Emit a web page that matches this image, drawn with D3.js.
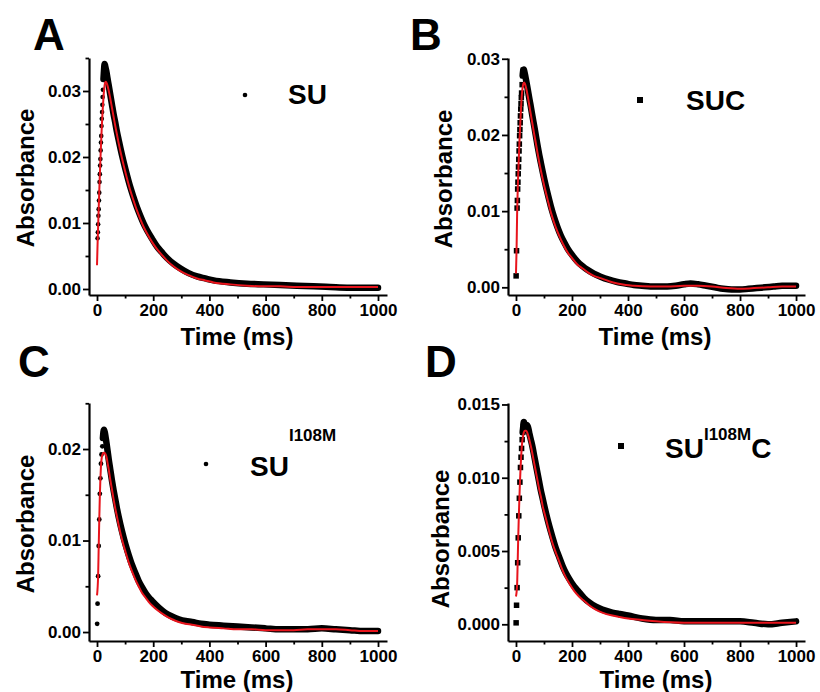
<!DOCTYPE html>
<html><head><meta charset="utf-8">
<script src="https://cdn.jsdelivr.net/npm/d3@7"></script>
<style>
body{margin:0;background:#fff}
svg{display:block}
text{font-family:"Liberation Sans",Arial,sans-serif;font-weight:bold;fill:#000}
</style></head>
<body><svg id="c" width="820" height="692"></svg>
<script>
// ---------------- DATA ----------------
const xTicks = [0, 200, 400, 600, 800, 1000];
const xMinor = [100, 300, 500, 700, 900];
const xTitle = "Time (ms)";
const yTitle = "Absorbance";

const yTicksA = [0, 0.01, 0.02, 0.03];      const yMinorA = [0.005, 0.015, 0.025, 0.035];
const yTicksB = [0, 0.01, 0.02, 0.03];      const yMinorB = [0.005, 0.015, 0.025];
const yTicksC = [0, 0.01, 0.02];            const yMinorC = [0.005, 0.015, 0.025];
const yTicksD = [0, 0.005, 0.010, 0.015];   const yMinorD = [0.0025, 0.0075, 0.0125];

const panelLetters = ["A", "B", "C", "D"];
const labelA = [["SU", false]];
const labelB = [["SUC", false]];
const labelC = [["SU", false], ["I108M", true]];
const labelD = [["SU", false], ["I108M", true], ["C", false]];

// Panel A – SU (observed, time ms / absorbance)
const dataTA = [2,3,4,5,6,7,8,9,10,11,12,13,14,15,16,17,18,19,20,21,23,25,27,29,31,34,37,41,47,53,59,65,71,77,83,95,107,118,130,142,154,166,178,196,214,232,249,273,297,326,356,385,415,475,534,593,652,711,770,830,890,950,1000];
const dataVA = [.0077,.0086,.0098,.0111,.0121,.0134,.0146,.0162,.0174,.0187,.0197,.0210,.0222,.0232,.0247,.0258,.0268,.0279,.0291,.0302,.0318,.0332,.0341,.0338,.0334,.0328,.0320,.0310,.0295,.0280,.0265,.0252,.0238,.0226,.0214,.0192,.0172,.0155,.0139,.0124,.0111,.0099,.0089,.0076,.0064,.0055,.0047,.0038,.0031,.0024,.0019,.0016,.0013,.0010,.0008,.0007,.0006,.0005,.0004,.0003,.0002,.0002,.0002];
const fitTA = [0,2,4,6,8,10,12,14,16,18,20,23,26,29,32,36,41,47,53,59,65,71,77,83,95,107,118,130,142,154,166,178,196,214,232,249,273,297,326,356,385,415,475,534,593,652,711,770,830,890,950,1000];
const fitVA = [.0036,.0068,.0095,.0122,.0148,.0172,.0195,.0216,.0236,.0254,.0270,.0290,.0305,.0313,.0314,.0310,.0302,.0289,.0275,.0261,.0247,.0234,.0221,.0209,.0187,.0167,.0150,.0134,.0119,.0106,.0094,.0084,.0071,.0060,.0051,.0043,.0034,.0027,.0021,.0016,.0013,.0010,.0007,.0005,.0004,.0004,.0003,.0003,.0003,.0003,.0003,.0003];

// Panel B – SUC
const dataTB = [0.5,2,4,5,6,7,8,9,10,11,12,13,14,15,16,17,18,19,20,22,24,26,28,30,33,37,42,47,53,59,65,71,77,83,89,101,113,124,136,148,160,172,184,201,219,237,255,278,302,332,362,392,421,450,480,510,540,570,600,623,650,680,710,740,770,800,830,860,890,920,950,975,1000];
const dataVB = [.0015,.0048,.0104,.0114,.0129,.0138,.0149,.0158,.0168,.0179,.0188,.0199,.0207,.0216,.0225,.0234,.0241,.0249,.0255,.0266,.0278,.0285,.0286,.0283,.0278,.0270,.0260,.0249,.0237,.0224,.0212,.0199,.0186,.0174,.0163,.0142,.0123,.0107,.0092,.0079,.0068,.0059,.0051,.0042,.0034,.0028,.0023,.0018,.0014,.0010,.0007,.0005,.0003,.0002,.0001,.0001,.0001,.0002,.0004,.0005,.0004,.0002,.0000,-.0002,-.0003,-.0003,-.0002,-.0001,.0000,.0001,.0002,.0002,.0002];
const fitTB = [0,2,4,6,8,10,12,14,16,18,20,23,26,29,32,36,42,47,53,59,65,71,77,83,89,101,113,124,136,148,160,172,184,201,219,237,255,278,302,332,362,392,421,480,540,600,650,700,750,800,850,900,950,1000];
const fitVB = [.0018,.0048,.0095,.0125,.0149,.0168,.0188,.0204,.0220,.0235,.0248,.0260,.0267,.0269,.0267,.0262,.0251,.0240,.0227,.0214,.0201,.0189,.0176,.0164,.0153,.0133,.0115,.0099,.0085,.0073,.0063,.0054,.0046,.0038,.0030,.0025,.0020,.0015,.0012,.0008,.0005,.0003,.0002,.0001,.0001,.0002,.0002,.0001,-.0001,-.0002,-.0001,.0000,.0001,.0001];

// Panel C – SU I108M
const dataTC = [0.5,2,4,6,8,10,12,14,16,19,21,23,25,27,29,31,34,38,42,47,53,59,65,71,77,89,101,113,125,137,148,160,172,184,196,219,243,267,291,315,338,370,400,450,500,550,600,650,700,750,800,850,900,950,1000];
const dataVC = [.0009,.0031,.0061,.0094,.0123,.0151,.0168,.0184,.0194,.0203,.0212,.0219,.0221,.0219,.0216,.0212,.0206,.0197,.0188,.0178,.0166,.0155,.0145,.0135,.0126,.0110,.0096,.0084,.0073,.0064,.0056,.0049,.0043,.0038,.0034,.0027,.0021,.0017,.0014,.0012,.0011,.0009,.0008,.0007,.0006,.0005,.0004,.0003,.0003,.0003,.0004,.0003,.0002,.0001,.0001];
const fitTC = [0,4,6,8,10,12,14,17,21,25,29,34,38,42,47,53,59,65,71,77,89,101,113,125,137,148,160,172,184,196,219,243,267,291,315,338,370,400,450,500,550,600,650,700,750,800,850,900,950,1000];
const fitVC = [.0040,.0062,.0093,.0122,.0148,.0167,.0181,.0191,.0195,.0196,.0195,.0191,.0184,.0177,.0167,.0156,.0145,.0135,.0126,.0117,.0101,.0088,.0076,.0066,.0057,.0050,.0043,.0038,.0033,.0029,.0023,.0018,.0014,.0011,.0009,.0008,.0006,.0005,.0004,.0003,.0003,.0002,.0002,.0002,.0003,.0003,.0003,.0002,.0001,.0001];

// Panel D – SU I108M C
const dataTD = [0.5,2,4,6,8,10,12,14,16,18,20,22,24,26,28,30,33,36,39,42,45,48,53,59,65,71,77,83,89,95,107,119,131,142,154,166,178,190,207,225,243,261,285,308,344,370,400,450,500,550,600,650,700,750,800,850,900,950,1000];
const dataVD = [.0001,.0013,.0025,.0042,.0059,.0074,.0086,.0097,.0107,.0114,.0120,.0126,.0131,.0135,.0138,.0137,.0135,.0134,.0136,.0135,.0133,.0130,.0126,.0121,.0115,.0109,.0103,.0097,.0091,.0086,.0076,.0067,.0059,.0052,.0046,.0040,.0035,.0031,.0026,.0022,.0018,.0015,.0012,.0010,.0008,.0007,.0006,.0004,.0003,.0003,.0002,.0002,.0002,.0002,.0002,.0001,.0000,.0001,.0002];
const fitTD = [0,4,6,8,10,12,14,16,18,20,22,25,28,32,36,40,45,50,55,60,65,71,77,83,89,95,107,119,131,142,154,166,178,190,207,225,243,261,285,308,344,370,400,450,500,600,700,800,900,1000];
const fitVD = [.0019,.0027,.0042,.0059,.0073,.0085,.0096,.0105,.0113,.0119,.0124,.0128,.0131,.0132,.0132,.0131,.0128,.0124,.0120,.0115,.0110,.0104,.0098,.0092,.0087,.0081,.0072,.0063,.0055,.0049,.0043,.0037,.0032,.0028,.0023,.0019,.0016,.0013,.0010,.0008,.0006,.0005,.0004,.0003,.0002,.0001,.0001,.0001,.0001,.0001];

// ---------------- LAYOUT ----------------
const panels = [
  {letter: panelLetters[0], T: dataTA, V: dataVA, FT: fitTA, FV: fitVA, yTicks: yTicksA, yMinor: yMinorA,
   yDom: [-0.00091, 0.035], fmt: ".2f", x0: 89, x1: 387, yTop: 58, yBot: 295, marker: "circle", mSize: 2.3,
   letterPos: [33, 50], absPos: [25, 178], timePos: [237, 345],
   legend: {dot: [245, 95], text: [288, 104], parts: labelA, supDy: 0}},
  {letter: panelLetters[1], T: dataTB, V: dataVB, FT: fitTB, FV: fitVB, yTicks: yTicksB, yMinor: yMinorB,
   yDom: [-0.00101, 0.0301], fmt: ".2f", x0: 508, x1: 805, yTop: 58, yBot: 295, marker: "square", mSize: 5.5,
   letterPos: [410, 50], absPos: [443, 179], timePos: [655, 345],
   legend: {dot: [640, 100], text: [686, 110], parts: labelB, supDy: 0}},
  {letter: panelLetters[2], T: dataTC, V: dataVC, FT: fitTC, FV: fitVC, yTicks: yTicksC, yMinor: yMinorC,
   yDom: [-0.00098, 0.02503], fmt: ".2f", x0: 89, x1: 387, yTop: 403, yBot: 641, marker: "circle", mSize: 2.4,
   letterPos: [18, 377], absPos: [25, 524], timePos: [237, 688],
   legend: {dot: [206, 464], text: [250, 476], parts: labelC, supDy: -35}},
  {letter: panelLetters[3], T: dataTD, V: dataVD, FT: fitTD, FV: fitVD, yTicks: yTicksD, yMinor: yMinorD,
   yDom: [-0.00114, 0.0151], fmt: ".3f", x0: 508, x1: 805, yTop: 403, yBot: 641, marker: "square", mSize: 5.5,
   letterPos: [425, 377], absPos: [440, 539], timePos: [656, 688],
   legend: {dot: [621, 446], text: [665, 458], parts: labelD, supDy: -18}}
];

const svg = d3.select("#c");
const RED = "#e8141c";

function drawMarker(sel, kind, s) {
  if (kind === "circle") {
    sel.append("circle").attr("r", s).attr("fill", "#000");
  } else {
    sel.append("rect").attr("x", -s / 2).attr("y", -s / 2).attr("width", s).attr("height", s).attr("fill", "#000");
  }
}

panels.forEach(p => {
  const x = d3.scaleLinear().domain([-28.5, 1032]).range([p.x0, p.x1]);
  const y = d3.scaleLinear().domain(p.yDom).range([p.yBot, p.yTop]);
  const g = svg.append("g");

  // minor ticks
  g.append("g").attr("transform", `translate(0,${p.yBot})`)
    .call(d3.axisBottom(x).tickValues(xMinor).tickSize(3.5).tickFormat(""))
    .call(a => a.select(".domain").remove())
    .call(a => a.selectAll("line").attr("stroke", "#000").attr("stroke-width", 1.8));
  g.append("g").attr("transform", `translate(${p.x0},0)`)
    .call(d3.axisLeft(y).tickValues(p.yMinor).tickSize(3.5).tickFormat(""))
    .call(a => a.select(".domain").remove())
    .call(a => a.selectAll("line").attr("stroke", "#000").attr("stroke-width", 1.8));

  // major axes
  const gx = g.append("g").attr("transform", `translate(0,${p.yBot})`)
    .call(d3.axisBottom(x).tickValues(xTicks).tickSize(6).tickSizeOuter(0).tickPadding(3).tickFormat(d3.format("d")));
  const gy = g.append("g").attr("transform", `translate(${p.x0},0)`)
    .call(d3.axisLeft(y).tickValues(p.yTicks).tickSize(6).tickSizeOuter(0).tickPadding(2).tickFormat(d3.format(p.fmt)));
  [gx, gy].forEach(a => {
    a.select(".domain").attr("stroke", "#000").attr("stroke-width", 2.2);
    a.selectAll(".tick line").attr("stroke", "#000").attr("stroke-width", 1.8);
    a.selectAll(".tick text").attr("font-size", 17).attr("font-family", '"Liberation Sans",Arial,sans-serif')
      .attr("font-weight", "bold").attr("fill", "#000");
  });

  // observed data
  const pts = p.T.map((t, i) => [t, p.V[i]]);
  const pk = d3.maxIndex(p.V);
  const line = d3.line().x(d => x(d[0])).y(d => y(d[1])).curve(d3.curveMonotoneX);
  g.append("path").datum(pts.slice(Math.max(0, pk - 2)))
    .attr("d", line).attr("fill", "none").attr("stroke", "#000")
    .attr("stroke-width", 6.5).attr("stroke-linejoin", "round").attr("stroke-linecap", "round");
  g.append("g").selectAll("g").data(pts.slice(0, pk)).join("g")
    .attr("transform", d => `translate(${x(d[0])},${y(d[1])})`)
    .each(function () { drawMarker(d3.select(this), p.marker, p.mSize); });

  // fit
  const fit = p.FT.map((t, i) => [t, p.FV[i]]);
  g.append("path").datum(fit).attr("d", line).attr("fill", "none")
    .attr("stroke", RED).attr("stroke-width", 2).attr("stroke-linejoin", "round");

  // titles
  g.append("text").attr("x", p.timePos[0]).attr("y", p.timePos[1]).attr("text-anchor", "middle")
    .attr("font-size", 24).text(xTitle);
  g.append("text").attr("transform", `translate(${p.absPos[0]},${p.absPos[1]}) rotate(-90)`)
    .attr("text-anchor", "middle").attr("dominant-baseline", "central").attr("font-size", 24).text(yTitle);
  g.append("text").attr("x", p.letterPos[0]).attr("y", p.letterPos[1]).attr("font-size", 44).text(p.letter);

  // legend
  const lg = g.append("g").attr("transform", `translate(${p.legend.dot[0]},${p.legend.dot[1]})`);
  drawMarker(lg, p.marker, p.marker === "circle" ? 2.3 : 6);
  const lt = g.append("text").attr("x", p.legend.text[0]).attr("y", p.legend.text[1]).attr("font-size", 28);
  let shifted = false;
  p.legend.parts.forEach(([s, sup]) => {
    const ts = lt.append("tspan").text(s);
    if (sup && !shifted) { ts.attr("font-size", 17).attr("dy", p.legend.supDy); shifted = true; }
    else if (!sup && shifted) { ts.attr("dy", -p.legend.supDy); shifted = false; }
  });
});
</script></body></html>
